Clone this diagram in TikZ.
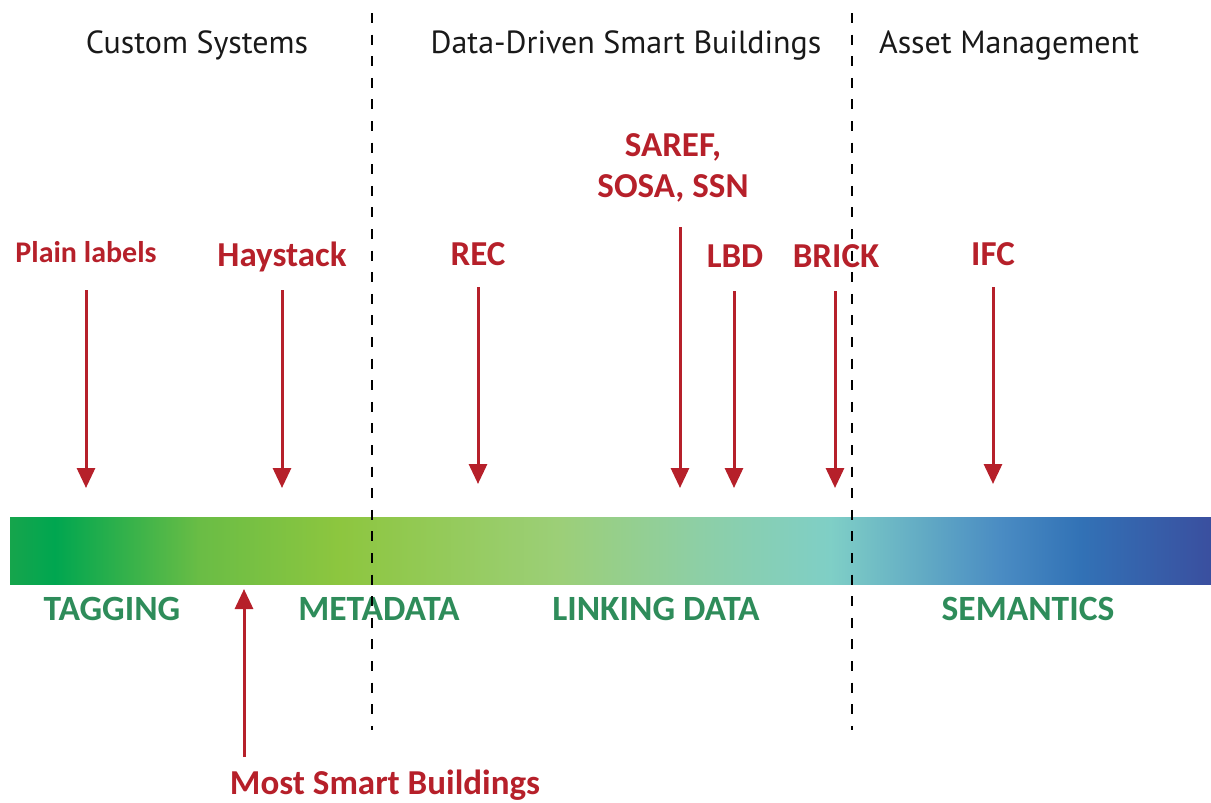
\documentclass[tikz,border=0pt]{standalone}
\usepackage{fontspec}
\setmainfont{Carlito}
\newfontfamily\titlefont{PT Sans}
\usetikzlibrary{arrows.meta}
\definecolor{redc}{RGB}{182,32,42}
\definecolor{greenc}{RGB}{46,140,90}
\definecolor{g0}{RGB}{22,165,76}
\definecolor{g1}{RGB}{0,166,80}
\definecolor{g2}{RGB}{106,189,69}
\definecolor{g3}{RGB}{141,198,63}
\definecolor{g4}{RGB}{156,207,120}
\definecolor{g5}{RGB}{141,207,166}
\definecolor{g6}{RGB}{127,207,198}
\definecolor{g7}{RGB}{74,140,195}
\definecolor{g8}{RGB}{50,114,182}
\definecolor{g9}{RGB}{58,79,159}
\pgfdeclarehorizontalshading{barshade}{100bp}{color(0bp)=(g0); color(25bp)=(g0); color(26.87bp)=(g1); color(32.91bp)=(g2); color(38.74bp)=(g3); color(47.9bp)=(g4); color(53.73bp)=(g5); color(59.14bp)=(g6); color(66.21bp)=(g7); color(69.54bp)=(g8); color(75bp)=(g9); color(100bp)=(g9)}
\tikzset{
  titletext/.style={font=\titlefont\fontsize{32}{34}\selectfont, text=black!90, anchor=base, inner sep=0pt},
  redlabel/.style={font=\bfseries\fontsize{35}{37}\selectfont, text=redc, anchor=base, inner sep=0pt},
  smallred/.style={font=\bfseries\fontsize{30}{32}\selectfont, text=redc, anchor=base, inner sep=0pt},
  greenlabel/.style={font=\bfseries\fontsize{35.5}{37}\selectfont, text=greenc, anchor=base, inner sep=0pt},
  redarrow/.style={draw=redc, line width=3pt, -{Triangle[length=20pt,width=18pt]}},
  divider/.style={draw=black, line width=2.6pt, dash pattern=on 10pt off 11.6pt}
}
\begin{document}
\begin{tikzpicture}[x=1pt,y=-1pt]
\useasboundingbox (0,0) rectangle (1211,803);
% titles
\node[titletext] (t1) at (197,53) {Custom Systems};
\node[titletext] (t2) at (626,53) {Data-Driven Smart Buildings};
\node[titletext] (t3) at (1009,53) {Asset Management};
% bar
\path[shading=barshade] (10,517) rectangle (1211,584);
\node[inner sep=0pt, minimum width=1201pt, minimum height=67pt] (bar) at (610.5,550.5) {};
% red labels
\node[smallred] (plain) at (86,262) {Plain labels};
\node[redlabel] (hay) at (282,266) {Haystack};
\node[redlabel] (rec) at (478,265) {REC};
\node[redlabel] (saref) at (673,156) {SAREF,};
\node[redlabel] (sosa) at (673,197) {SOSA, SSN};
\node[redlabel] (lbd) at (735,267) {LBD};
\node[redlabel] (brick) at (836,267) {BRICK};
\node[redlabel] (ifc) at (993,265) {IFC};
\node[redlabel] (most) at (385,794) {Most Smart Buildings};
% green labels
\node[greenlabel] (tag) at (112,620) {TAGGING};
\node[greenlabel] (meta) at (379,620) {METADATA};
\node[greenlabel] (link) at (656,620) {LINKING DATA};
\node[greenlabel] (sem) at (1028,620) {SEMANTICS};
% arrow end points
\coordinate (p1) at (86,290);  \coordinate (q1) at (86,488);
\coordinate (p2) at (282,290); \coordinate (q2) at (282,488);
\coordinate (p3) at (478,287); \coordinate (q3) at (478,484);
\coordinate (p4) at (680,227); \coordinate (q4) at (680,488);
\coordinate (p5) at (734,291); \coordinate (q5) at (734,488);
\coordinate (p6) at (835,291); \coordinate (q6) at (835,488);
\coordinate (p7) at (993,287); \coordinate (q7) at (993,484);
\coordinate (p8) at (244,757); \coordinate (q8) at (244,589);
\draw[redarrow] (p1) -- (q1);
\draw[redarrow] (p2) -- (q2);
\draw[redarrow] (p3) -- (q3);
\draw[redarrow] (p4) -- (q4);
\draw[redarrow] (p5) -- (q5);
\draw[redarrow] (p6) -- (q6);
\draw[redarrow] (p7) -- (q7);
\draw[redarrow] (p8) -- (q8);
% dividers
\coordinate (d1a) at (372,13); \coordinate (d1b) at (372,730);
\coordinate (d2a) at (852,13); \coordinate (d2b) at (852,730);
\draw[divider] (d1a) -- (d1b);
\draw[divider] (d2a) -- (d2b);
\end{tikzpicture}
\end{document}
